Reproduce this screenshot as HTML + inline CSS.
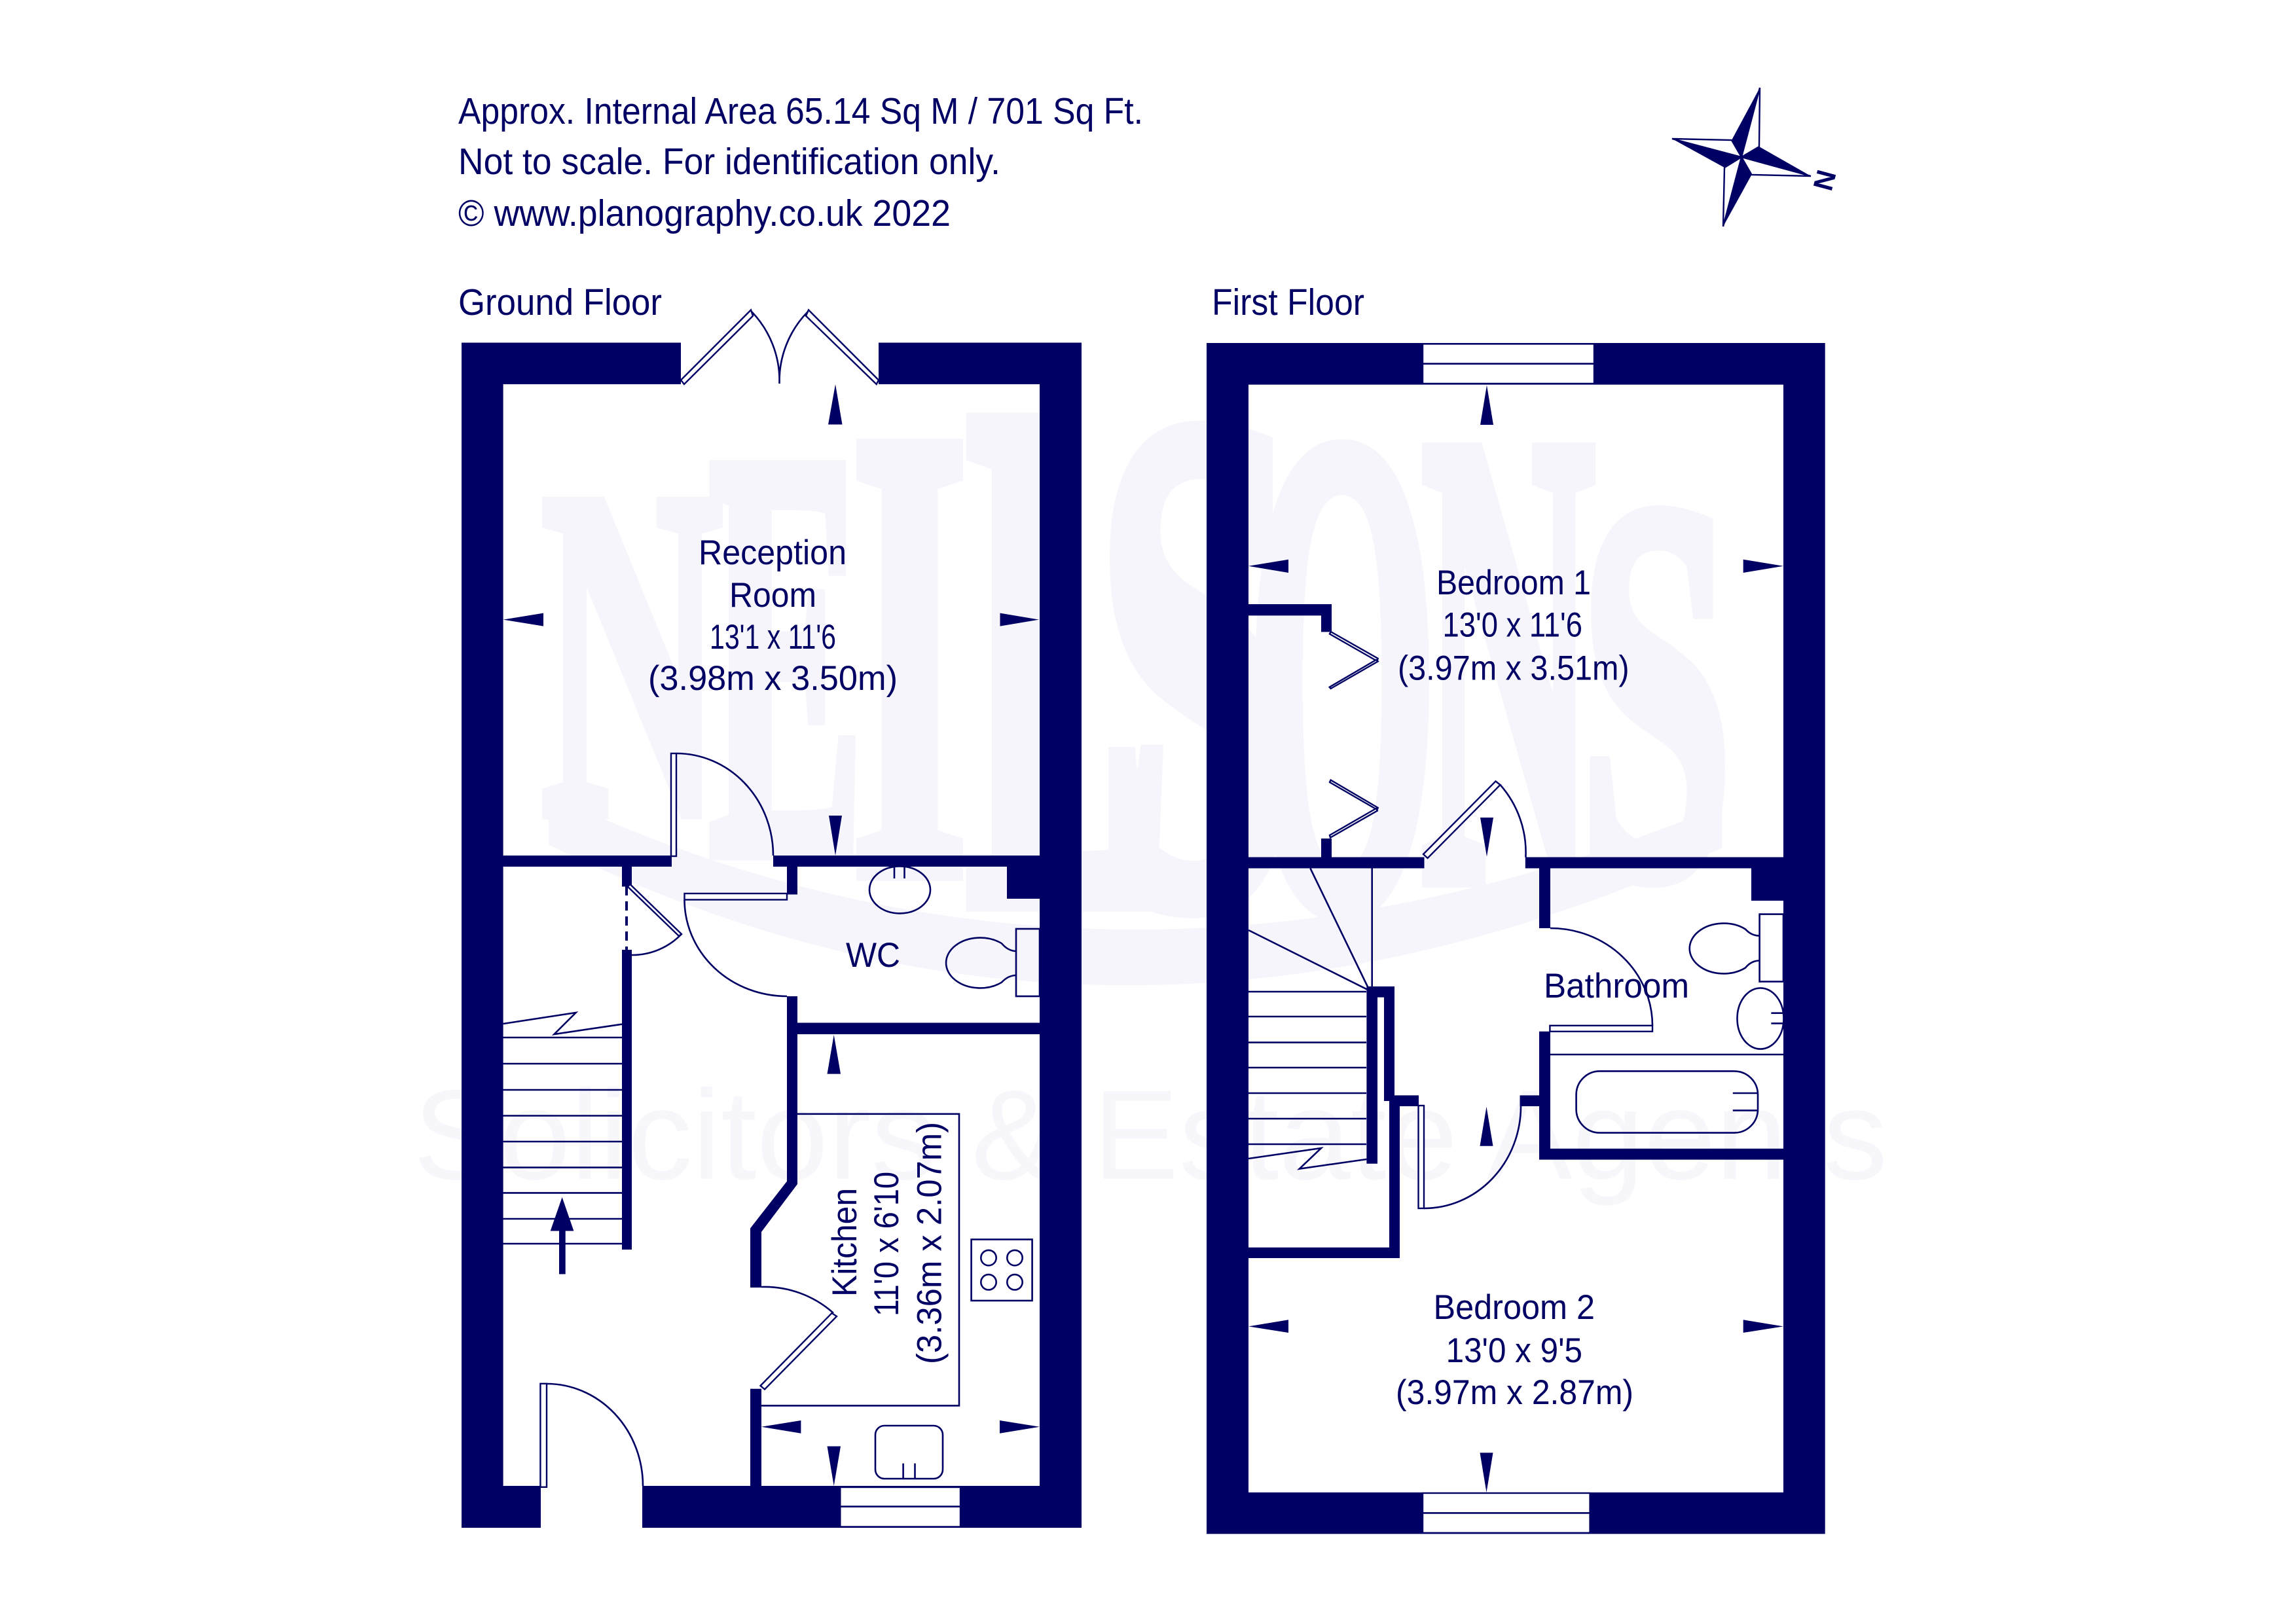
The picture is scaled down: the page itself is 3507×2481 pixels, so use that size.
<!DOCTYPE html>
<html><head><meta charset="utf-8"><style>
html,body{margin:0;padding:0;background:#fff}
svg{display:block}
text{font-family:"Liberation Sans",sans-serif;fill:#000064}
.t{font-size:57px}.r{font-size:53px}
.l{fill:none;stroke:#000064;stroke-width:2.6}
.p{fill:#fff;stroke:#000064;stroke-width:2.4}
.w{fill:#000064}
text.wm{fill:#f5f5fb;stroke:#f5f5fb;stroke-width:3.2;font-family:"Liberation Serif",serif;font-weight:bold;font-size:100px}
</style></head><body>
<svg width="3507" height="2481" viewBox="0 0 3507 2481" xmlns="http://www.w3.org/2000/svg">
<rect width="3507" height="2481" fill="#fff"/>
<!-- watermark -->
<g>
<text class="wm" transform="translate(827,1240) scale(3.82,7.17)">N</text>
<text class="wm" transform="translate(1083,1300) scale(3.54,8.9)">E</text>
<text class="wm" transform="translate(1300,1330) scale(4.6,9.84)">I</text>
<text class="wm" transform="translate(1475,1375) scale(4.7,11.1)">L</text>
<text class="wm" transform="translate(1672,1375) scale(5.6,10.8)">S</text>
<text class="wm" transform="translate(1905,1383) scale(3.73,10.5)">O</text>
<text class="wm" transform="translate(2171,1340) scale(3.67,9.9)">N</text>
<text class="wm" transform="translate(2413,1335) scale(4.19,8.3)">S</text>
<path d="M838 1214 Q1700 1618 2630 1230 L2630 1295 Q1700 1718 838 1290Z" fill="#f5f5fb"/>
<text x="631" y="1801" font-size="195" textLength="2252" lengthAdjust="spacingAndGlyphs" style="fill:#f6f6fb">Solicitors &amp; Estate Agents</text>
</g>

<!-- header -->
<text class="t" x="700" y="189" textLength="1046" lengthAdjust="spacingAndGlyphs">Approx. Internal Area 65.14 Sq M / 701 Sq Ft.</text>
<text class="t" x="700" y="266" textLength="828" lengthAdjust="spacingAndGlyphs">Not to scale. For identification only.</text>
<text class="t" x="700" y="345" textLength="752" lengthAdjust="spacingAndGlyphs">© www.planography.co.uk 2022</text>
<text class="t" x="700" y="481" textLength="311" lengthAdjust="spacingAndGlyphs">Ground Floor</text>
<text class="t" x="1851" y="481" textLength="233" lengthAdjust="spacingAndGlyphs">First Floor</text>

<!-- compass -->
<g>
<polygon class="w" points="2660,240 2688,134 2645,214"/>
<polygon class="w" points="2660,240 2687,224 2766,269"/>
<polygon class="w" points="2660,240 2675.5,267 2632,346"/>
<polygon class="w" points="2660,240 2634,256 2554,212"/>
<polygon class="p" points="2660,240 2688,134 2687,224"/>
<polygon class="p" points="2660,240 2766,269 2675.5,267"/>
<polygon class="p" points="2660,240 2632,346 2634,256"/>
<polygon class="p" points="2660,240 2554,212 2645,214"/>
<text transform="translate(2777,257) rotate(105)" font-size="42" font-weight="bold">N</text>
</g>

<!-- ================= GROUND FLOOR ================= -->
<g class="w">
<path d="M705 523.5H1040V587H768.6V2270H826V2334H705Z"/>
<path d="M1342 523.5H1652V2334H981V2270H1588V587H1342Z"/>
<rect x="768" y="1307" width="258" height="17"/>
<rect x="1181" y="1307" width="407" height="17"/>
<rect x="1202" y="1324" width="16" height="42.5"/>
<path d="M1202 1522H1218V1809L1163 1882V1967H1146V1876.5L1202 1804.6Z"/>
<rect x="1218" y="1562.5" width="370" height="17.5"/>
<rect x="950" y="1324" width="15" height="30.5"/>
<rect x="950" y="1451" width="15" height="458"/>
<rect x="1538" y="1324" width="50" height="49"/>
<rect x="1146" y="2121.7" width="17" height="150"/>
</g>
<!-- windows / door panels -->
<rect x="1283.3" y="2272" width="183.7" height="60.5" class="p"/>
<path class="l" d="M1283 2301.6H1467" />
<polygon class="p" points="1040,580.6 1147,473.5 1150,482.6 1045,587"/>
<polygon class="p" points="1342,580.6 1235,473.5 1231,482.6 1338.7,587"/>
<path class="l" d="M1148 476A152 152 0 0 1 1190.5 586M1234 476A152 152 0 0 0 1190.5 586"/>
<rect class="p" x="1025" y="1151" width="8" height="157"/>
<path class="l" d="M1033 1151A148 156 0 0 1 1181 1307"/>
<rect class="p" x="1045.5" y="1365" width="156.5" height="9.5"/>
<path class="l" d="M1045.5 1374.5A156.5 147.5 0 0 0 1202 1522"/>
<path d="M957 1354V1451" stroke="#000064" stroke-width="4" stroke-dasharray="14 9" fill="none"/>
<polygon class="p" points="962.5,1351 1041,1427 1037,1430 958.7,1354.5"/>
<path class="l" d="M1041 1427A105 105 0 0 1 965 1459"/>
<rect class="p" x="825.4" y="2113.8" width="9.6" height="158"/>
<path class="l" d="M835 2114A147 156 0 0 1 982 2270"/>
<polygon class="p" points="1161.5,2117 1270.6,2006 1278,2011 1168,2122.5"/>
<path class="l" d="M1273 2006A158 158 0 0 0 1163 1966"/>
<!-- stairs -->
<path class="l" d="M768 1585H950M768 1625H950M768 1665H950M768 1704.5H950M768 1744H950M768 1783.6H950M768 1822.4H950M768 1862H950M768 1900H950"/>
<path class="l" d="M768.6 1564L879.6 1547L846.5 1580L950 1564.7"/>
<polygon class="w" points="858.6,1829 876.4,1880.5 863.7,1880.5 863.7,1946.5 854,1946.5 854,1880.5 840.7,1880.5"/>
<!-- fixtures -->
<ellipse class="l" cx="1374.5" cy="1359.4" rx="46.5" ry="36"/>
<path class="l" d="M1366 1324V1342M1381.5 1324V1342"/>
<rect class="l" x="1552" y="1419" width="36" height="103"/>
<path class="l" d="M1552 1453Q1540 1453 1530 1441.3A52 38.4 0 1 0 1530 1500.7Q1540 1490 1552 1490"/>
<path class="l" d="M1218 1701.8H1465V2147.4H1163"/>
<rect class="l" x="1483.6" y="1893.5" width="93" height="93.5"/>
<circle class="l" cx="1510" cy="1921.6" r="11.7"/><circle class="l" cx="1550" cy="1921.6" r="11.7"/>
<circle class="l" cx="1510" cy="1958.8" r="11.7"/><circle class="l" cx="1550" cy="1958.8" r="11.7"/>
<rect class="l" x="1337" y="2178" width="103" height="81" rx="14"/>
<path class="l" d="M1379.6 2235.6V2258M1397.5 2235.6V2258"/>
<!-- arrows -->
<g class="w">
<polygon points="1276,587 1265,648.5 1286.5,648.5"/>
<polygon points="768.6,946.6 830,936.6 830,956.6"/>
<polygon points="1587,946.6 1527.5,936.6 1527.5,956.6"/>
<polygon points="1276,1307 1266,1246 1286,1246"/>
<polygon points="1273.7,1581 1263.5,1640.6 1284,1640.6"/>
<polygon points="1162.8,2179.8 1223.4,2170 1223.4,2189.7"/>
<polygon points="1588,2179.8 1527,2170 1527,2189.7"/>
<polygon points="1273.7,2270 1263.5,2209.5 1284,2209.5"/>
</g>
<!-- labels -->
<text class="r" x="1067" y="862" textLength="226" lengthAdjust="spacingAndGlyphs">Reception</text>
<text class="r" x="1114" y="927" textLength="133" lengthAdjust="spacingAndGlyphs">Room</text>
<text class="r" x="1084" y="991" textLength="193" lengthAdjust="spacingAndGlyphs">13'1 x 11'6</text>
<text class="r" x="990" y="1054" textLength="381" lengthAdjust="spacingAndGlyphs">(3.98m x 3.50m)</text>
<text class="r" x="1292" y="1477" textLength="83" lengthAdjust="spacingAndGlyphs">WC</text>
<text class="r" transform="translate(1308,1981) rotate(-90)" textLength="166" lengthAdjust="spacingAndGlyphs">Kitchen</text>
<text class="r" transform="translate(1372,2011) rotate(-90)" textLength="221" lengthAdjust="spacingAndGlyphs">11'0 x 6'10</text>
<text class="r" transform="translate(1437.6,2084) rotate(-90)" textLength="370" lengthAdjust="spacingAndGlyphs">(3.36m x 2.07m)</text>

<!-- ================= FIRST FLOOR ================= -->
<path class="w" fill-rule="evenodd" d="M1843 524H2787.7V2343.4H1843ZM1907 587.6V2280H2724V587.6Z"/>
<g class="w">
<rect x="1907" y="923" width="127" height="17.4"/>
<rect x="2018" y="923" width="16" height="42.4"/>
<rect x="2018" y="1281" width="16" height="29"/>
<rect x="1907" y="1309.5" width="268.5" height="17"/>
<rect x="2329.8" y="1309.5" width="394.2" height="17"/>
<rect x="2351" y="1326" width="17" height="92"/>
<rect x="2675" y="1326" width="49" height="50"/>
<path d="M2351 1575.8H2368V1754.8H2724V1771.6H2351Z"/>
<rect x="2321.5" y="1673.4" width="30" height="16.6"/>
<path d="M2087.4 1507H2130V1673.4H2167V1690H2138V1922H1907V1905.7H2122V1682H2114V1523.6H2104V1777.8H2087.4Z"/>
</g>
<rect class="p" x="2173" y="525.4" width="262" height="60.6"/>
<path class="l" d="M2173 555.7H2435"/>
<rect class="p" x="2173" y="2281" width="255.6" height="60.8"/>
<path class="l" d="M2173 2311.4H2428.6"/>
<!-- folding doors -->
<polygon class="p" points="2032.6,965 2104.7,1006 2103.5,1010 2031,968.5"/>
<polygon class="p" points="2104.7,1010.4 2032.6,1052 2030.7,1049.7 2102,1008"/>
<polygon class="p" points="2032.6,1191.7 2104.7,1234 2103.5,1237 2031,1195"/>
<polygon class="p" points="2103.8,1238.6 2032,1279.6 2031,1276 2102,1235"/>
<!-- doors -->
<polygon class="p" points="2174,1305 2284.5,1193.5 2291.5,1199 2180.6,1311"/>
<path class="l" d="M2291.5 1199A156 156 0 0 1 2330.4 1309.5"/>
<rect class="p" x="2367.4" y="1566.8" width="156.6" height="9"/>
<path class="l" d="M2368 1418A156 149 0 0 1 2524 1567"/>
<rect class="p" x="2166.5" y="1689" width="8.5" height="157"/>
<path class="l" d="M2175 1846A148 156 0 0 0 2323 1690"/>
<!-- stairs -->
<path class="l" d="M1907 1515H2087M1907 1553H2087M1907 1592.6H2087M1907 1631H2087M1907 1670H2087M1907 1709H2087M1907 1748H2087"/>
<path class="l" d="M1907 1770L2018 1754L1984.8 1785.6L2087.4 1771"/>
<path class="l" d="M2001.4 1326.5L2090 1509.5M2095.7 1326.5V1507M1907 1421L2088.7 1511.8"/>
<!-- fixtures -->
<rect class="l" x="2687.6" y="1396.6" width="36.4" height="103"/>
<path class="l" d="M2687.6 1429.6Q2675 1429.6 2666 1419.5A52 38.4 0 1 0 2666 1478.5Q2675 1467.6 2687.6 1467.6"/>
<ellipse class="l" cx="2689" cy="1556" rx="35.5" ry="46.6"/>
<path class="l" d="M2705.4 1547.7H2724M2705.4 1563.4H2724"/>
<path class="l" d="M2368 1611H2724"/>
<rect class="l" x="2407.6" y="1636.4" width="277.4" height="94.2" rx="36"/>
<path class="l" d="M2646.8 1670H2685M2646.8 1696.4H2685"/>
<!-- arrows -->
<g class="w">
<polygon points="2271,588.5 2261,649 2281,649"/>
<polygon points="1907,864.7 1968,854.7 1968,875"/>
<polygon points="2724,864.7 2662.7,854.7 2662.7,875"/>
<polygon points="2271,1308.7 2261,1249 2281,1249"/>
<polygon points="2270.5,1690.8 2260.5,1750.8 2280.5,1750.8"/>
<polygon points="1907,2026.4 1968,2016.3 1968,2036"/>
<polygon points="2724,2026.4 2662.7,2016.3 2662.7,2036"/>
<polygon points="2270.5,2280 2260.5,2219.4 2280.5,2219.4"/>
</g>
<!-- labels -->
<text class="r" x="2194" y="908" textLength="236" lengthAdjust="spacingAndGlyphs">Bedroom 1</text>
<text class="r" x="2203.5" y="972.5" textLength="213.5" lengthAdjust="spacingAndGlyphs">13'0 x 11'6</text>
<text class="r" x="2135" y="1038.6" textLength="353.6" lengthAdjust="spacingAndGlyphs">(3.97m x 3.51m)</text>
<text class="r" x="2358" y="1524" textLength="222" lengthAdjust="spacingAndGlyphs">Bathroom</text>
<text class="r" x="2189.5" y="2015" textLength="246.5" lengthAdjust="spacingAndGlyphs">Bedroom 2</text>
<text class="r" x="2208.6" y="2080.8" textLength="208.4" lengthAdjust="spacingAndGlyphs">13'0 x 9'5</text>
<text class="r" x="2132" y="2145" textLength="363" lengthAdjust="spacingAndGlyphs">(3.97m x 2.87m)</text>
</svg>
</body></html>
